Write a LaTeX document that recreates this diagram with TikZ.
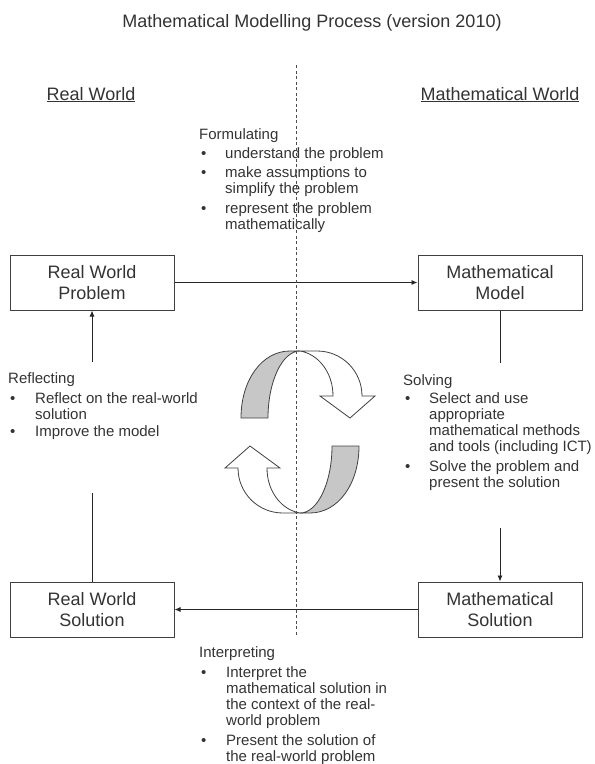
\documentclass[tikz,border=0pt]{standalone}
\usepackage{fontspec}
\setmainfont{Liberation Sans}
\usetikzlibrary{arrows.meta,positioning}
\newcommand{\notefont}{\fontsize{15}{16}\selectfont}
\newcommand{\bigfont}{\fontsize{18}{21}\selectfont}
\newcommand{\stephead}[1]{\multicolumn{2}{@{}l@{}}{#1}}
\newcommand{\bul}{\hspace{2pt}\textbullet}
\tikzset{
	x=1pt, y=-1pt, % pixel-like coordinates, y going down
	>={Latex[length=6pt,width=5pt]}, % small filled arrow heads
	box/.style={draw=black!75, line width=1pt, minimum width=164pt, minimum height=55pt, align=center, font=\bigfont, text=black!80, inner sep=0pt},
	note/.style={anchor=base west, inner sep=0pt, font=\notefont, text=black!80},
	heading/.style={anchor=base, inner sep=0pt, font=\bigfont, text=black!80},
	flow/.style={->, line width=0.9pt, black!85},
	ribbon/.style={draw=black!75, line width=0.8pt},
}

\begin{document}
\begin{tikzpicture}
	\useasboundingbox (0,0) rectangle (595,764);
	
	% titles
	\node[heading] (title) at (312,27) {Mathematical Modelling Process (version 2010)};
	\node[heading] (real) at (91,100) {\underline{Real World}};
	\node[heading] (math) at (500,100) {\underline{Mathematical World}};
	
	% the four boxes
	\node[box] (rwp) at (92,282.5) {Real World\\Problem};
	\node[box] (mm) at (500,282.5) {Mathematical\\Model};
	\node[box] (rws) at (92,609.5) {Real World\\Solution};
	\node[box] (ms) at (500,609.5) {Mathematical\\Solution};
	
	% the four steps
	\node[note] (form) at (199,139) {\begin{tabular}[t]{@{}p{26pt}@{}l@{}}
		\stephead{Formulating}\\[3pt]
		\bul & understand the problem\\[3pt]
		\bul & make assumptions to\\
		& simplify the problem\\[4pt]
		\bul & represent the problem\\
		& mathematically
	\end{tabular}};
	\node[note] (refl) at (8,383) {\begin{tabular}[t]{@{}p{27pt}@{}l@{}}
		\stephead{Reflecting}\\[4pt]
		\bul & Reflect on the real-world\\
		& solution\\[1pt]
		\bul & Improve the model
	\end{tabular}};
	\node[note] (solv) at (403,385) {\begin{tabular}[t]{@{}p{26pt}@{}l@{}}
		\stephead{Solving}\\[2pt]
		\bul & Select and use\\
		& appropriate\\
		& mathematical methods\\
		& and tools (including ICT)\\[4pt]
		\bul & Solve the problem and\\
		& present the solution
	\end{tabular}};
	\node[note] (interp) at (199,657) {\begin{tabular}[t]{@{}p{27pt}@{}l@{}}
		\stephead{Interpreting}\\[4pt]
		\bul & Interpret the\\
		& mathematical solution in\\
		& the context of the real-\\
		& world problem\\[4pt]
		\bul & Present the solution of\\
		& the real-world problem
	\end{tabular}};
	
	% free ends of the split connectors
	\coordinate (mmend) at (500,363);
	\coordinate (msstart) at (500,528);
	\coordinate (rwsend) at (92,493);
	\coordinate (rwpstart) at (92,362);
	
	\draw[flow] (rwp) -- (mm);
	\draw[flow, -] (mm) -- (mmend);
	\draw[flow] (msstart) -- (ms);
	\draw[flow] (ms) -- (rws);
	\draw[flow, -] (rws) -- (rwsend);
	\draw[flow] (rwpstart) -- (rwp);
	
	% the turning ribbon arrows
	\foreach \ang in {0,180}{
		\begin{scope}[shift={(300,432)}, rotate=\ang]
			\path[ribbon, fill=black!22] (-59,-14) .. controls (-59,-52) and (-38,-81) .. (-10,-81)
				-- (0,-81) .. controls (-18,-81) and (-32,-50) .. (-32,-14) -- cycle;
			\path[ribbon, fill=white] (0,-81) -- (17,-81) .. controls (42,-81) and (62,-61) .. (62,-36)
				-- (75,-36) -- (50,-14) -- (20,-36) -- (33,-36)
				.. controls (33,-60) and (18,-78) .. (0,-81) -- cycle;
		\end{scope}
	}
	
	% divider between the two worlds
	\draw[black!70, line width=0.8pt, dash pattern=on 3pt off 2.5pt] (296,65) -- (296,635);
\end{tikzpicture}
\end{document}
